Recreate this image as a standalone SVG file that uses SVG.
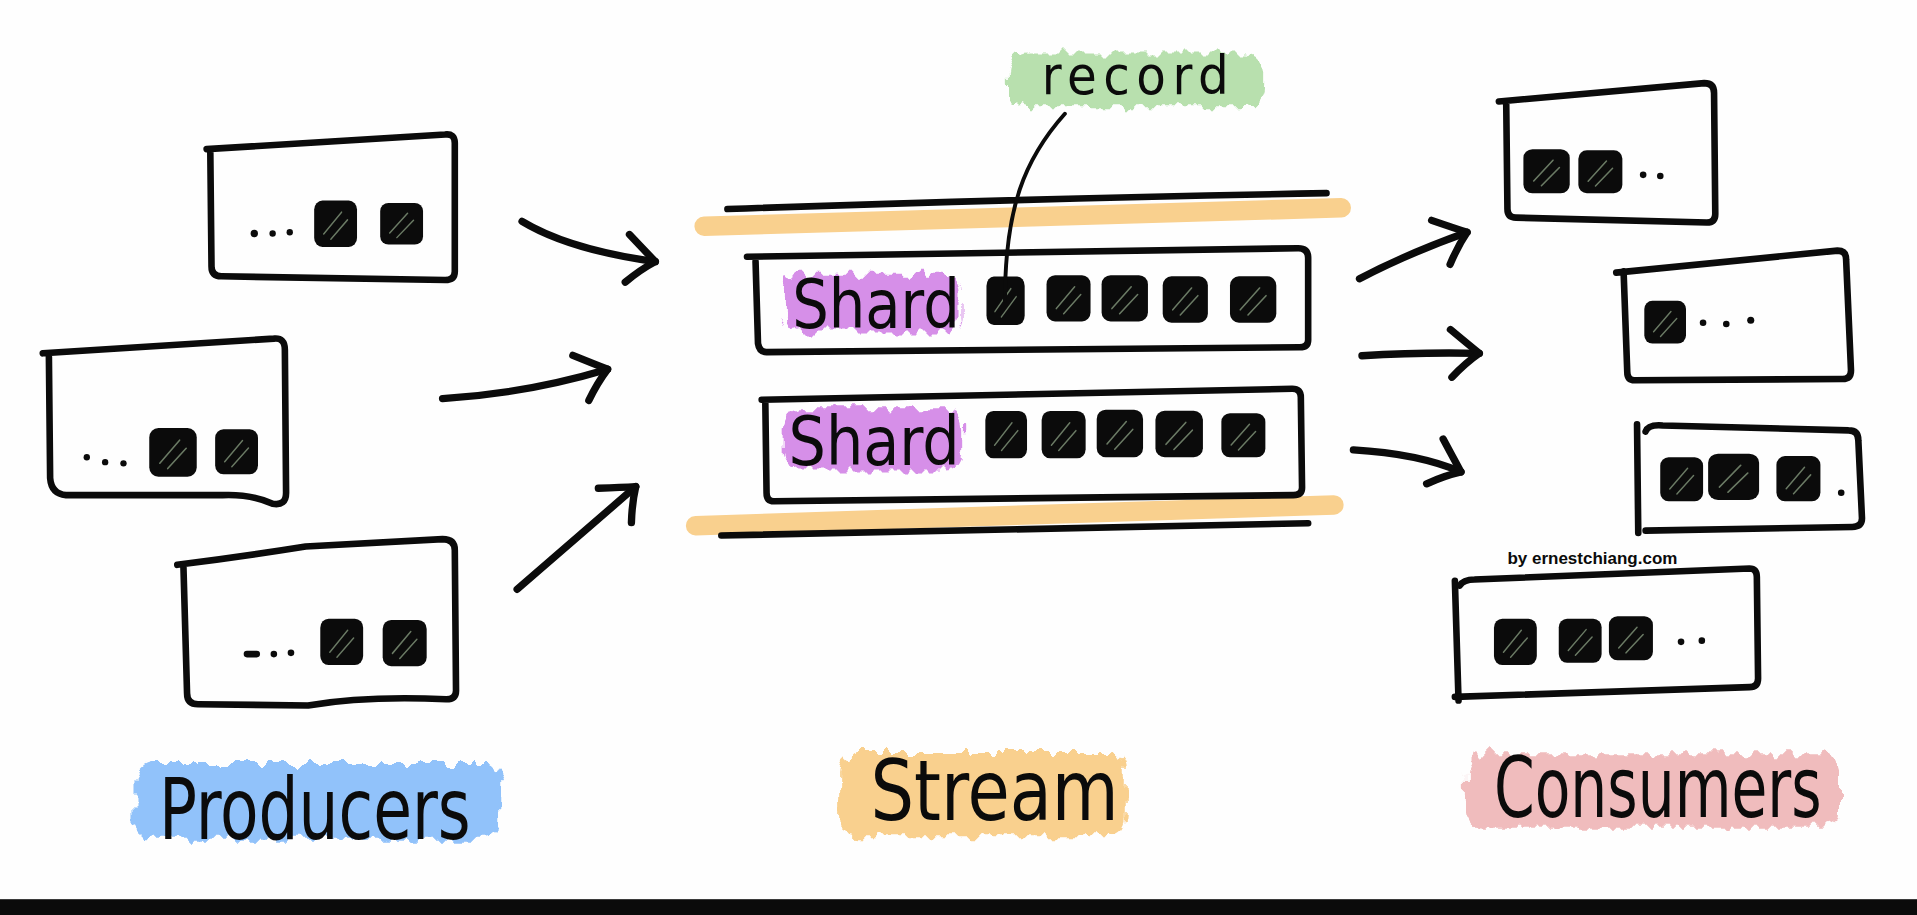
<svg xmlns="http://www.w3.org/2000/svg" xmlns:xlink="http://www.w3.org/1999/xlink" width="1917" height="915" viewBox="0 0 1917 915">
<style>
.ink{fill:none;stroke:#0b0b0b;stroke-width:5.4;stroke-linecap:round;stroke-linejoin:round}
.arrow{fill:none;stroke:#0b0b0b;stroke-width:6;stroke-linecap:round;stroke-linejoin:round}
.lead{fill:none;stroke:#0b0b0b;stroke-width:3.2;stroke-linecap:round}
.band{fill:none;stroke:#f9d08e;stroke-width:16;stroke-linecap:round}
.dot{fill:#0b0b0b}
.hl{filter:url(#rough)}
.hand{font-family:'Liberation Sans Narrow','DejaVu Sans Condensed','Liberation Sans',sans-serif;fill:#0b0b0b}
.lbl{font-family:'Liberation Sans','DejaVu Sans',sans-serif;fill:#0b0b0b}
</style>
<defs>
<filter id="rough" x="-15%" y="-40%" width="130%" height="180%">
<feTurbulence type="fractalNoise" baseFrequency="0.12 0.05" numOctaves="2" seed="3" result="n"/>
<feDisplacementMap in="SourceGraphic" in2="n" scale="16" xChannelSelector="R" yChannelSelector="G"/>
</filter>
<symbol id="sq" viewBox="0 0 38 38" preserveAspectRatio="none">
<rect x="1" y="1" width="36" height="36" rx="7" fill="#0b0b0b"/>
<path d="M9,27 L24,10 M15,31 L29,16" stroke="#b9d6ae" stroke-width="1.2" stroke-linecap="round" opacity="0.55"/>
</symbol>
<marker id="head" viewBox="-34 -28 44 56" refX="0" refY="0" markerWidth="44" markerHeight="56" markerUnits="userSpaceOnUse" orient="auto">
<path d="M-24,-19 Q-9,-7 0,0 Q-11,8 -22,20" fill="none" stroke="#0b0b0b" stroke-width="6" stroke-linecap="round" stroke-linejoin="round"/>
</marker>
</defs>
<rect width="1917" height="915" fill="#fefefe"/>
<g transform="scale(1.22258)">

<g id="producer-1">
<path class="ink" d="M169,122 L364,110 Q372,109 372,117 L372,222 Q372,229 364,229 L181,226 Q173,226 173,218 L172,122"/>
<circle class="dot" cx="208" cy="191" r="3"/><circle class="dot" cx="223" cy="191" r="2.6"/><circle class="dot" cx="237" cy="190" r="2.6"/>
<use href="#sq" x="256" y="163" width="37" height="40"/>
<use href="#sq" x="310" y="165" width="37" height="36"/>
</g>

<g id="producer-2">
<path class="ink" d="M35,289 L224,277 Q233,276 233,286 L234,403 Q234,414 223,412 Q205,404 182,405 L54,405 Q42,404 41,391 L40,292"/>
<circle class="dot" cx="71" cy="374" r="2.6"/><circle class="dot" cx="86" cy="378" r="2.6"/><circle class="dot" cx="101" cy="379" r="2.6"/>
<use href="#sq" x="121" y="349" width="41" height="42"/>
<use href="#sq" x="175" y="350" width="37" height="39"/>
</g>

<g id="producer-3">
<path class="ink" d="M145,462 Q200,455 250,447 L362,441 Q372,441 372,450 L373,565 Q373,572 365,572 Q300,569 252,577 L162,576 Q153,576 153,567 L150,462"/>
<path class="ink" d="M202,535 L210,535" stroke-width="4.5"/>
<circle class="dot" cx="224" cy="535" r="2.7"/><circle class="dot" cx="238" cy="534" r="2.7"/>
<use href="#sq" x="261" y="505" width="37" height="40"/>
<use href="#sq" x="312" y="506" width="38" height="40"/>
</g>

<g id="stream">
<path class="band" d="M576,185 Q850,177 1097,170"/>
<path class="ink" d="M595,171 Q820,163 1085,158"/>
<path class="band" d="M569,430 Q850,420 1091,413"/>
<path class="ink" d="M590,438 Q850,432 1070,428"/>
</g>

<g id="shard-1">
<path class="ink" d="M611,210 L1062,203 Q1070,203 1070,211 L1070,278 Q1070,284 1063,284 L627,288 Q621,288 620,281 L618,214"/>
<rect class="hl" x="642" y="224" width="142" height="48" rx="14" fill="#d68fe8"/>
<text class="hand" x="648" y="268" font-size="56" textLength="137" lengthAdjust="spacingAndGlyphs">Shard</text>
<use href="#sq" x="806" y="225" width="33" height="42"/>
<use href="#sq" x="855" y="224" width="38" height="40"/>
<use href="#sq" x="900" y="224" width="40" height="40"/>
<use href="#sq" x="950" y="225" width="39" height="40"/>
<use href="#sq" x="1005" y="225" width="40" height="40"/>
</g>

<g id="shard-2">
<path class="ink" d="M623,327 L1057,318 Q1064,318 1064,325 L1065,399 Q1065,405 1058,405 L633,410 Q627,410 627,403 L626,330"/>
<rect class="hl" x="641" y="334" width="146" height="50" rx="14" fill="#d68fe8"/>
<text class="hand" x="645" y="380" font-size="56" textLength="140" lengthAdjust="spacingAndGlyphs">Shard</text>
<use href="#sq" x="805" y="335" width="36" height="41"/>
<use href="#sq" x="851" y="335" width="38" height="41"/>
<use href="#sq" x="896" y="334" width="40" height="41"/>
<use href="#sq" x="944" y="335" width="41" height="40"/>
<use href="#sq" x="998" y="337" width="38" height="38"/>
</g>

<g id="record-label">
<rect class="hl" x="826" y="43" width="208" height="44" rx="16" fill="#b8e0ae"/>
<text class="hand" x="852" y="77" font-size="44" textLength="153" lengthAdjust="spacing">record</text>
</g>

<g id="connectors">
<path class="lead" d="M871,93 C838,130 822,170 822,246"/>
<path class="arrow" marker-end="url(#head)" d="M427,181 Q465,204 536,214"/>
<path class="arrow" marker-end="url(#head)" d="M362,326 Q430,322 497,302"/>
<path class="arrow" marker-end="url(#head)" d="M423,482 L520,398"/>
<path class="arrow" marker-end="url(#head)" d="M1112,228 Q1150,208 1200,190"/>
<path class="arrow" marker-end="url(#head)" d="M1114,291 Q1160,288 1210,289"/>
<path class="arrow" marker-end="url(#head)" d="M1107,368 Q1160,371 1195,386"/>
</g>

<g id="consumer-1">
<path class="ink" d="M1226,83 L1394,68 Q1402,68 1402,76 L1403,175 Q1403,182 1396,182 L1240,178 Q1233,178 1233,171 L1232,84"/>
<use href="#sq" x="1245" y="121" width="40" height="38"/>
<use href="#sq" x="1290" y="122" width="38" height="37"/>
<circle class="dot" cx="1344" cy="143" r="2.7"/><circle class="dot" cx="1358" cy="144" r="2.7"/>
</g>

<g id="consumer-2">
<path class="ink" d="M1322,223 L1503,205 Q1510,205 1510,212 L1514,303 Q1514,310 1507,310 L1337,311 Q1331,311 1331,304 L1328,222"/>
<use href="#sq" x="1344" y="245" width="36" height="37"/>
<circle class="dot" cx="1393" cy="264" r="2.7"/><circle class="dot" cx="1412" cy="265" r="2.7"/><circle class="dot" cx="1432" cy="262" r="2.9"/>
</g>

<g id="consumer-3">
<path class="ink" d="M1339,347 L1340,436"/>
<path class="ink" d="M1346,353 Q1348,347 1360,348 L1512,352 Q1520,352 1520,360 L1523,424 Q1523,431 1515,431 L1346,434"/>
<use href="#sq" x="1357" y="373" width="37" height="38"/>
<use href="#sq" x="1396" y="370" width="44" height="40"/>
<use href="#sq" x="1452" y="372" width="38" height="39"/>
<circle class="dot" cx="1506" cy="403" r="2.7"/>
</g>

<text class="lbl" x="1233" y="461" font-size="14" font-weight="bold" textLength="139" lengthAdjust="spacingAndGlyphs">by ernestchiang.com</text>

<g id="consumer-4">
<path class="ink" d="M1190,475 L1193,573"/>
<path class="ink" d="M1194,479 Q1197,474 1206,474 L1431,465 Q1437,465 1437,472 L1438,555 Q1438,562 1431,562 L1190,570"/>
<use href="#sq" x="1221" y="505" width="37" height="40"/>
<use href="#sq" x="1274" y="505" width="37" height="38"/>
<use href="#sq" x="1315" y="503" width="38" height="38"/>
<circle class="dot" cx="1375" cy="525" r="2.7"/><circle class="dot" cx="1392" cy="524" r="2.7"/>
</g>

<g id="label-producers">
<rect class="hl" x="110" y="624" width="300" height="62" rx="14" fill="#91c2fa"/>
<text class="hand" x="130" y="686" font-size="70" textLength="255" lengthAdjust="spacingAndGlyphs">Producers</text>
</g>
<g id="label-stream">
<rect class="hl" x="688" y="616" width="232" height="68" rx="14" fill="#f9d08e"/>
<text class="hand" x="712" y="671" font-size="68" textLength="203" lengthAdjust="spacingAndGlyphs">Stream</text>
</g>
<g id="label-consumers">
<rect class="hl" x="1199" y="617" width="306" height="60" rx="14" fill="#f0bcbd"/>
<text class="hand" x="1222" y="668" font-size="68" textLength="268" lengthAdjust="spacingAndGlyphs">Consumers</text>
</g>

<rect x="0" y="735.5" width="1568" height="13" fill="#0b0b0b"/>
</g>
</svg>
